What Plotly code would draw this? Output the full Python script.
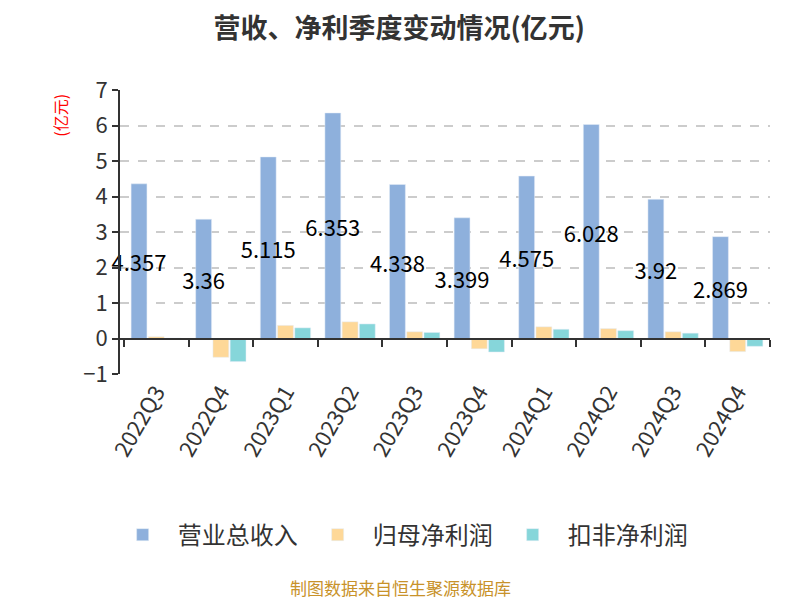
import plotly.graph_objects as go

# DATA=========================================== #
quarters = ['2022Q3', '2022Q4', '2023Q1', '2023Q2', '2023Q3',
            '2023Q4', '2024Q1', '2024Q2', '2024Q3', '2024Q4']
revenue = [4.357, 3.36, 5.115, 6.353, 4.338, 3.399, 4.575, 6.028, 3.92, 2.869]
net_profit = [0.05, -0.53, 0.37, 0.47, 0.19, -0.29, 0.33, 0.28, 0.19, -0.37]
deducted_profit = [0.01, -0.65, 0.30, 0.41, 0.17, -0.38, 0.26, 0.22, 0.15, -0.22]
revenue_labels = ['4.357', '3.36', '5.115', '6.353', '4.338',
                  '3.399', '4.575', '6.028', '3.92', '2.869']

colors = {
    'revenue': '#8eb0dc',
    'net': '#fed898',
    'deducted': '#86d6da',
    'text': '#333333'
}
font_family = 'Noto Sans CJK SC'

# GRAPH================================================ #
fig = go.Figure(data=[
    go.Bar(name='营业总收入', x=quarters, y=revenue, marker_color=colors['revenue'],
           text=revenue_labels, textposition='inside', insidetextanchor='middle',
           textangle=0, constraintext='none', cliponaxis=False,
           insidetextfont=dict(size=22, color='#000000')),
    go.Bar(name='归母净利润', x=quarters, y=net_profit, marker_color=colors['net']),
    go.Bar(name='扣非净利润', x=quarters, y=deducted_profit, marker_color=colors['deducted']),
])

# page body has an 8px margin, so the figure is a bit smaller than the window
fig.update_layout(
    width=792, height=592,
    paper_bgcolor='white', plot_bgcolor='white',
    font=dict(family=font_family, color=colors['text'], size=22),
    margin=dict(l=112, r=30, t=82, b=226),
    barmode='group', bargap=0.2, bargroupgap=0.08,
    title=dict(text='<b>营收、净利季度变动情况(亿元)</b>', x=0.494, xanchor='center',
               y=0.966, yanchor='middle', font=dict(size=27, color=colors['text'])),
    xaxis=dict(showline=False, ticks='', tickangle=-60, tickfont=dict(size=22),
               showgrid=False, zeroline=False),
    xaxis2=dict(matches='x', overlaying='x', anchor='free', position=0.125,
                showline=True, linecolor=colors['text'], linewidth=2,
                ticks='outside', ticklen=7, tickwidth=2, tickcolor=colors['text'],
                tickson='boundaries', showticklabels=False, showgrid=False),
    yaxis=dict(range=[-1, 7], dtick=1, showline=True, linecolor=colors['text'], linewidth=2,
               ticks='outside', ticklen=6, tickwidth=2, tickcolor=colors['text'],
               showgrid=True, gridcolor='#cccccc', griddash='dash', gridwidth=1.5,
               zeroline=False, tickfont=dict(size=22)),
    legend=dict(orientation='h', x=0.431, xanchor='center', y=-0.567, yanchor='middle',
                font=dict(size=24), itemwidth=60),
    showlegend=True,
)

# dummy trace to activate xaxis2
fig.add_trace(go.Scatter(x=[quarters[0]], y=[None], xaxis='x2', showlegend=False,
                         hoverinfo='skip'))

fig.add_annotation(text='(亿元)', xref='paper', yref='paper', x=-0.092, y=0.993,
                   xanchor='center', yanchor='top', textangle=-90, showarrow=False,
                   font=dict(size=16, color='red'))
fig.add_annotation(text='制图数据来自恒生聚源数据库', xref='paper', yref='paper',
                   x=0.431, y=-0.75, xanchor='center', yanchor='middle', showarrow=False,
                   font=dict(size=17, color='#c8922a'))

fig.write_html("out.html")
